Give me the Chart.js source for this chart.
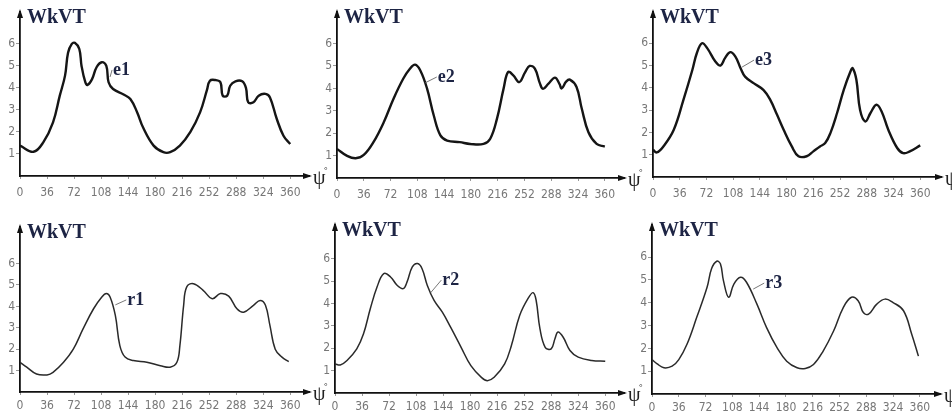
<!DOCTYPE html>
<html>
<head>
<meta charset="utf-8">
<script src="https://cdn.jsdelivr.net/npm/chart.js@4.4.1/dist/chart.umd.min.js"></script>
<style>
body { margin: 0; background: #fff; width: 952px; height: 413px; overflow: hidden; position: relative; }
canvas { position: absolute; }
</style>
</head>
<body>
<canvas id="c1"></canvas>
<canvas id="c2"></canvas>
<canvas id="c3"></canvas>
<canvas id="c4"></canvas>
<canvas id="c5"></canvas>
<canvas id="c6"></canvas>
<script>
const tickAngles = [0, 36, 72, 108, 144, 180, 216, 252, 288, 324, 360];
const tickValues = [1, 2, 3, 4, 5, 6];

const e1Angles = [0, 18, 31, 44, 53, 60, 64, 69, 73, 79, 82, 87, 90, 96, 102, 109, 115, 118, 124, 138, 147, 156, 164, 178, 191, 200, 213, 227, 240, 249, 253, 260, 267, 270, 276, 280, 287, 296, 301, 304, 311, 318, 327, 333, 342, 351, 360];
const e1Values = [1.38, 1.1, 1.53, 2.44, 3.65, 4.56, 5.6, 6.0, 6.05, 5.77, 5.0, 4.26, 4.14, 4.4, 4.94, 5.17, 5.0, 4.26, 3.95, 3.7, 3.5, 2.9, 2.2, 1.38, 1.08, 1.08, 1.38, 2.0, 2.9, 3.9, 4.33, 4.36, 4.26, 3.65, 3.65, 4.1, 4.3, 4.3, 4.0, 3.35, 3.35, 3.65, 3.73, 3.57, 2.6, 1.83, 1.45];

const e2Angles = [0, 13, 25, 36, 49, 63, 76, 89, 98, 105, 112, 121, 130, 139, 148, 165, 179, 197, 206, 215, 224, 230, 237, 245, 253, 259, 266, 273, 277, 284, 293, 299, 302, 308, 313, 322, 329, 338, 349, 360];
const e2Values = [1.3, 1.0, 0.88, 1.03, 1.6, 2.5, 3.54, 4.43, 4.88, 5.06, 4.8, 4.0, 2.8, 1.9, 1.67, 1.6, 1.52, 1.52, 1.75, 2.64, 4.0, 4.73, 4.58, 4.28, 4.73, 5.0, 4.88, 4.2, 3.98, 4.2, 4.48, 4.2, 4.0, 4.3, 4.39, 4.06, 3.1, 2.04, 1.52, 1.4];

const e3Angles = [0, 5, 14, 28, 41, 53, 59, 66, 73, 84, 91, 97, 104, 111, 118, 124, 136, 149, 158, 167, 176, 187, 196, 207, 216, 225, 232, 239, 248, 257, 266, 269, 274, 279, 286, 293, 301, 308, 317, 329, 337, 346, 360];
const e3Values = [1.22, 1.1, 1.37, 2.12, 3.46, 4.8, 5.55, 6.0, 5.78, 5.18, 5.0, 5.33, 5.6, 5.4, 4.88, 4.5, 4.2, 3.9, 3.46, 2.8, 2.12, 1.37, 0.93, 0.93, 1.15, 1.37, 1.52, 1.97, 2.87, 3.91, 4.73, 4.88, 4.36, 3.0, 2.49, 2.87, 3.24, 2.94, 2.12, 1.3, 1.07, 1.15, 1.42];

const r1Angles = [0, 9, 22, 36, 44, 58, 71, 84, 98, 109, 115, 120, 127, 133, 140, 151, 169, 187, 200, 209, 213, 218, 222, 231, 244, 256, 267, 278, 289, 298, 311, 320, 327, 333, 340, 349, 358];
const r1Values = [1.39, 1.16, 0.84, 0.8, 0.92, 1.39, 2.0, 2.95, 3.89, 4.44, 4.6, 4.44, 3.58, 2.17, 1.63, 1.47, 1.39, 1.23, 1.16, 1.39, 2.17, 4.05, 4.9, 5.06, 4.75, 4.36, 4.6, 4.48, 3.89, 3.73, 4.05, 4.28, 4.05, 3.1, 2.0, 1.63, 1.42];

const r2Angles = [0, 7, 16, 29, 38, 47, 56, 65, 74, 83, 91, 96, 103, 110, 116, 123, 132, 143, 154, 168, 181, 195, 203, 212, 226, 235, 246, 257, 264, 268, 273, 280, 288, 293, 297, 304, 313, 324, 342, 360];
const r2Values = [1.3, 1.25, 1.45, 1.97, 2.64, 3.76, 4.73, 5.33, 5.18, 4.8, 4.66, 4.96, 5.63, 5.78, 5.55, 4.8, 4.13, 3.61, 2.94, 2.04, 1.22, 0.7, 0.55, 0.7, 1.3, 2.12, 3.46, 4.21, 4.48, 4.13, 2.87, 2.04, 1.97, 2.42, 2.72, 2.49, 1.9, 1.6, 1.45, 1.42];

const r3Angles = [0, 7, 16, 27, 36, 47, 60, 74, 80, 87, 92, 96, 103, 110, 119, 127, 141, 154, 168, 181, 195, 206, 217, 230, 244, 257, 268, 277, 284, 291, 302, 313, 324, 338, 349, 358];
const r3Values = [1.51, 1.32, 1.15, 1.22, 1.51, 2.18, 3.35, 4.68, 5.49, 5.82, 5.7, 4.97, 4.24, 4.82, 5.12, 4.9, 3.94, 2.91, 2.03, 1.44, 1.15, 1.12, 1.29, 1.88, 2.76, 3.79, 4.24, 4.09, 3.57, 3.5, 3.94, 4.16, 4.01, 3.65, 2.62, 1.66];

// where each small chart sits on the page (origin, arrow tips) and its curve label
const panels = [
    { id: 'c1', tag: 'e1', angles: e1Angles, values: e1Values, x0: 20, y0: 176, x1: 309, y1: 12, xMax: 385, yMax: 7.45, lw: 2.4, color: '#151515', pad: 7, tagDeg: 120, tagVal: 4.5, dx: 3, dy: -2 },
    { id: 'c2', tag: 'e2', angles: e2Angles, values: e2Values, x0: 337, y0: 178, x1: 624, y1: 12, xMax: 385.8, yMax: 7.41, lw: 2.4, color: '#151515', pad: 7, tagDeg: 118, tagVal: 4.24, dx: 13, dy: -1 },
    { id: 'c3', tag: 'e3', angles: e3Angles, values: e3Values, x0: 653, y0: 177, x1: 941, y1: 12, xMax: 388, yMax: 7.4, lw: 2.4, color: '#151515', pad: 7, tagDeg: 120, tagVal: 4.93, dx: 13, dy: -2 },
    { id: 'c4', tag: 'r1', angles: r1Angles, values: r1Values, x0: 20, y0: 392, x1: 309, y1: 227, xMax: 385, yMax: 7.71, lw: 1.5, color: '#2a2a2a', pad: 4, tagDeg: 127, tagVal: 4.07, dx: 12, dy: 0 },
    { id: 'c5', tag: 'r2', angles: r2Angles, values: r2Values, x0: 335, y0: 393, x1: 624, y1: 225, xMax: 385, yMax: 7.5, lw: 1.5, color: '#2a2a2a', pad: 4, tagDeg: 127, tagVal: 4.46, dx: 12, dy: -8 },
    { id: 'c6', tag: 'r3', angles: r3Angles, values: r3Values, x0: 652, y0: 394, x1: 940, y1: 225, xMax: 387, yMax: 7.41, lw: 1.5, color: '#2a2a2a', pad: 4, tagDeg: 136, tagVal: 4.6, dx: 12, dy: -1 }
];

const padL = 24, padB = 24, padT = 10, padR = 22;
const tickFont = { family: "'Liberation Sans Narrow', 'DejaVu Sans Condensed', 'Liberation Sans', sans-serif", size: 12 };

const deco = {
    id: 'deco',
    afterDraw(chart, args, o) {
        const ctx = chart.ctx;
        const a = chart.chartArea;
        const x = chart.scales.x, y = chart.scales.y;
        ctx.save();
        ctx.fillStyle = '#111';
        ctx.beginPath();
        ctx.moveTo(a.left, a.top - 3);
        ctx.lineTo(a.left - 3, a.top + 6);
        ctx.lineTo(a.left + 3, a.top + 6);
        ctx.closePath();
        ctx.fill();
        ctx.beginPath();
        ctx.moveTo(a.right + 3, a.bottom);
        ctx.lineTo(a.right - 6, a.bottom - 3);
        ctx.lineTo(a.right - 6, a.bottom + 3);
        ctx.closePath();
        ctx.fill();

        ctx.textAlign = 'left';
        ctx.textBaseline = 'alphabetic';
        ctx.font = 'bold 20px "Liberation Serif"';
        ctx.fillStyle = '#1d2444';
        ctx.fillText('WkVT', a.left + 7, a.top + 11);

        ctx.font = '20px "Liberation Serif"';
        ctx.fillStyle = '#222';
        ctx.fillText('ψ', a.right + 4, a.bottom + 8);
        ctx.font = '9px "Liberation Serif"';
        ctx.fillText('°', a.right + 15, a.bottom - 3);

        const px = x.getPixelForValue(o.tagDeg), py = y.getPixelForValue(o.tagVal);
        ctx.strokeStyle = '#555';
        ctx.lineWidth = 0.8;
        ctx.beginPath();
        ctx.moveTo(px, py);
        ctx.lineTo(px + o.dx - 1, py + o.dy - 5);
        ctx.stroke();
        ctx.font = 'bold 18px "Liberation Serif"';
        ctx.fillStyle = '#1d2444';
        ctx.fillText(o.tag, px + o.dx, py + o.dy);
        ctx.restore();
    }
};

panels.forEach(function(p) {
    const cv = document.getElementById(p.id);
    const w = (p.x1 - p.x0) + padL + padR;
    const h = (p.y0 - p.y1) + padT + padB;
    cv.width = w;
    cv.height = h;
    cv.style.width = w + 'px';
    cv.style.height = h + 'px';
    cv.style.left = (p.x0 - padL) + 'px';
    cv.style.top = (p.y1 - padT) + 'px';

    new Chart(cv.getContext('2d'), {
        type: 'line',
        data: {
            datasets: [{
                label: p.tag,
                data: p.angles.map((a, i) => ({ x: a, y: p.values[i] })),
                borderColor: p.color,
                borderWidth: p.lw,
                pointRadius: 0,
                tension: 0.4,
                fill: false
            }]
        },
        options: {
            responsive: false,
            animation: false,
            events: [],
            layout: { padding: { left: 0, top: padT, right: padR, bottom: 0 } },
            plugins: {
                legend: { display: false },
                tooltip: { enabled: false },
                deco: { tag: p.tag, tagDeg: p.tagDeg, tagVal: p.tagVal, dx: p.dx, dy: p.dy }
            },
            scales: {
                x: {
                    type: 'linear',
                    min: 0,
                    max: p.xMax,
                    afterBuildTicks: s => { s.ticks = tickAngles.map(v => ({ value: v })); },
                    afterFit: s => { s.height = padB; },
                    border: { color: '#111', width: 1.8 },
                    grid: { drawOnChartArea: false, tickLength: 3, color: '#999' },
                    ticks: { autoSkip: false, maxRotation: 0, padding: p.pad, color: '#777', font: tickFont }
                },
                y: {
                    min: 0,
                    max: p.yMax,
                    afterBuildTicks: s => { s.ticks = tickValues.map(v => ({ value: v })); },
                    afterFit: s => { s.width = padL; },
                    border: { color: '#111', width: 1.8 },
                    grid: { drawOnChartArea: false, tickLength: 4, color: '#999' },
                    ticks: { padding: 1, color: '#777', font: tickFont }
                }
            }
        },
        plugins: [deco]
    });
});
</script>
</body>
</html>
